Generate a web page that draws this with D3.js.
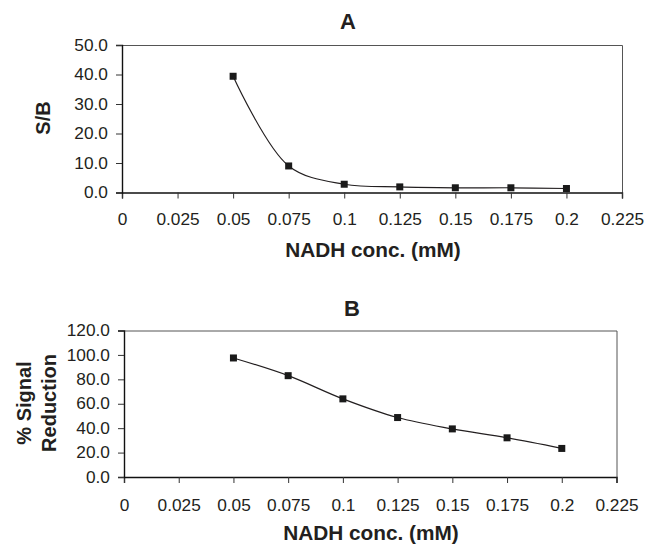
<!DOCTYPE html>
<html>
<head>
    <title>NADH concentration - S/B and % Signal Reduction</title>
    <script src="https://d3js.org/d3.v7.min.js"></script>
    <style>
        body { margin: 0; background: #fff; }
        text { font-family: "Liberation Sans", Arial, sans-serif; fill: #231f20; }
        .title { font-size: 22px; font-weight: bold; }
        .axis-label { font-size: 20px; font-weight: bold; }
        .line { fill: none; stroke: #231f20; stroke-width: 1.2px; }
        .frame { fill: none; stroke: #555; stroke-width: 1px; }
    </style>
</head>
<body>
    <svg width="645" height="545"></svg>
    <script>
        // NADH concentration (mM)
        var conc = [0.05, 0.075, 0.1, 0.125, 0.15, 0.175, 0.2];
        // panel A: signal / background
        var sbValues = [39.4, 9.0, 2.8, 1.9, 1.6, 1.6, 1.35];
        // panel B: % signal reduction
        var reductionValues = [97.5, 83.0, 64.0, 48.7, 39.4, 32.1, 23.4];

        var xTicks = [0, 0.025, 0.05, 0.075, 0.1, 0.125, 0.15, 0.175, 0.2, 0.225];
        var xTickLabels = ["0", "0.025", "0.05", "0.075", "0.1", "0.125", "0.15", "0.175", "0.2", "0.225"];
        var yTicksA = [0, 10, 20, 30, 40, 50];
        var yTicksB = [0, 20, 40, 60, 80, 100, 120];

        var svg = d3.select("svg");

        function drawPanel(opts) {
            var m = opts.box;
            var w = m.right - m.left, h = m.bottom - m.top;
            var g = svg.append("g").attr("transform", "translate(" + m.left + "," + m.top + ")");

            var x = d3.scaleLinear().domain([0, 0.225]).range([0, w]);
            var y = d3.scaleLinear().domain([0, opts.yMax]).range([h, 0]);

            // top / right border
            g.append("path")
             .attr("class", "frame")
             .attr("d", "M0.5,0.5H" + (w + 0.5) + "V" + h);

            var xAxis = g.append("g")
             .attr("transform", "translate(0," + h + ")")
             .call(d3.axisBottom(x).tickValues(xTicks)
                .tickFormat(function(d, i) { return xTickLabels[i]; })
                .tickSize(6).tickPadding(opts.xPad));
            xAxis.select(".domain").attr("stroke", "#111").attr("stroke-width", 1.4);
            xAxis.selectAll(".tick line").attr("stroke", "#333");

            var yAxis = g.append("g")
             .call(d3.axisLeft(y).tickValues(opts.yTicks)
                .tickFormat(d3.format(".1f")).tickSize(6).tickPadding(7));
            yAxis.select(".domain").attr("stroke", "#111").attr("stroke-width", 1.4);
            yAxis.selectAll(".tick line").attr("stroke", "#333");

            // the source font runs a little wide
            g.selectAll(".tick text")
             .attr("fill", "#231f20")
             .attr("transform", "scale(1.08,1)")
             .style("font-family", "'Liberation Sans', Arial, sans-serif")
             .style("font-size", "16px");

            var pts = conc.map(function(c, i) { return [c, opts.values[i]]; });
            var line = d3.line()
                .x(function(d) { return x(d[0]); })
                .y(function(d) { return y(d[1]); })
                .curve(d3.curveCatmullRom.alpha(0.5));

            g.append("path").datum(pts).attr("class", "line").attr("d", line);

            g.selectAll(".marker")
             .data(pts)
             .enter().append("rect")
             .attr("x", function(d) { return x(d[0]) - 3.5; })
             .attr("y", function(d) { return y(d[1]) - 3.5; })
             .attr("width", 7)
             .attr("height", 7)
             .attr("fill", "#1a1a1a");

            svg.append("text")
             .attr("class", "title")
             .attr("x", opts.titleX)
             .attr("y", opts.titleY)
             .attr("text-anchor", "middle")
             .text(opts.title);

            svg.append("text")
             .attr("class", "axis-label")
             .attr("transform", "translate(" + opts.xLabelX + "," + opts.xLabelY + ") scale(1.04,1)")
             .attr("text-anchor", "middle")
             .text("NADH conc. (mM)");

            opts.yLabel.forEach(function(t, i) {
                svg.append("text")
                 .attr("class", "axis-label")
                 .attr("transform", "translate(" + opts.yLabelX[i] + "," + opts.yLabelY + ") rotate(-90)")
                 .attr("text-anchor", "middle")
                 .attr("dy", "0.35em")
                 .text(t);
            });
        }

        drawPanel({
            box: {left: 122, right: 622, top: 45, bottom: 192.5},
            yMax: 50, yTicks: yTicksA, values: sbValues, xPad: 15.5,
            title: "A", titleX: 348, titleY: 29, xLabelX: 373, xLabelY: 257,
            yLabel: ["S/B"], yLabelX: [43], yLabelY: 118
        });

        drawPanel({
            box: {left: 124, right: 616.5, top: 330.5, bottom: 477},
            yMax: 120, yTicks: yTicksB, values: reductionValues, xPad: 16.5,
            title: "B", titleX: 352, titleY: 316, xLabelX: 371, xLabelY: 540,
            yLabel: ["% Signal", "Reduction"], yLabelX: [24, 49], yLabelY: 403
        });
    </script>
</body>
</html>
